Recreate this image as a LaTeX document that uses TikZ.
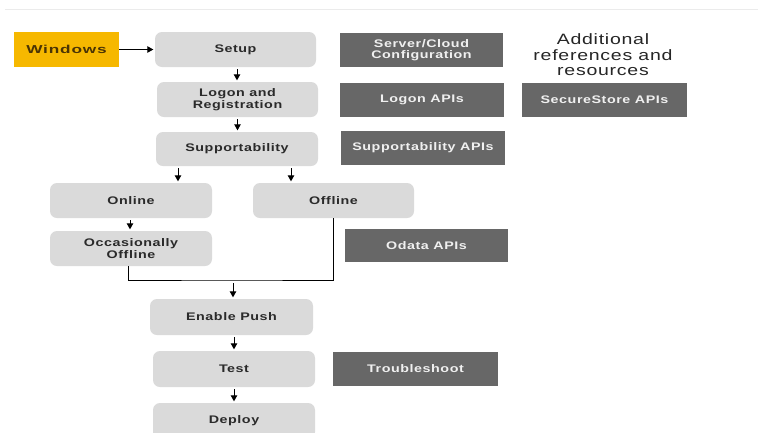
\documentclass[tikz,border=0pt]{standalone}
\usepackage{fontspec}
\setmainfont{Liberation Sans}
\newfontfamily\boxfont{Liberation Sans}[FakeStretch=1.3, LetterSpace=5]
\newfontfamily\winfont{Liberation Sans}[FakeStretch=1.5, LetterSpace=7]
\usetikzlibrary{arrows.meta,calc}
\definecolor{winyellow}{HTML}{F6B800}
\definecolor{lightbox}{HTML}{DADADA}
\definecolor{darkbox}{HTML}{676767}
\definecolor{boxtext}{HTML}{2A2A2A}
\definecolor{wintext}{HTML}{4A3405}
\tikzset{
  x=1pt, y=-1pt,
  base/.style={rectangle, inner sep=0pt, align=center,
    font=\boxfont\bfseries\fontsize{11}{11.5}\selectfont},
  stepbox/.style={base, fill=lightbox, rounded corners=7pt, text=boxtext},
  apibox/.style={base, fill=darkbox, text=white!94!black},
  winbox/.style={base, fill=winyellow, text=wintext, font=\winfont\bfseries\fontsize{11.5}{12}\selectfont},
  arr/.style={line width=0.9pt, -{Triangle[length=6pt,width=6.5pt]}, shorten <=2pt, shorten >=1.5pt},
  plain/.style={line width=0.8pt}
}
\begin{document}
\begin{tikzpicture}
\clip (0,0) rectangle (758,432);
\useasboundingbox (0,0) rectangle (758,432);
\fill[white] (0,0) rectangle (758,432);
\draw[black!8, line width=0.6pt] (5,9) -- (758,9);

\node[winbox, minimum width=105, minimum height=35] (win) at (66.5,49.5) {Windows};
\node[stepbox, minimum width=161, minimum height=35] (setup) at (235.5,49.5) {Setup};
\node[apibox, minimum width=163, minimum height=34] (server) at (421.5,50) {Server/Cloud\\Configuration};
\node[base, font=\boxfont\fontsize{15}{15.5}\selectfont, text=black!85] (addl) at (603,55) {Additional\\references and\\resources};

\node[stepbox, minimum width=161, minimum height=35] (logon) at (237.5,99.5) {Logon and\\Registration};
\node[apibox, minimum width=164, minimum height=34] (logonapi) at (422,100) {Logon APIs};
\node[apibox, minimum width=165, minimum height=34] (secure) at (604.5,100) {SecureStore APIs};

\node[stepbox, minimum width=162, minimum height=34] (supp) at (237,149) {Supportability};
\node[apibox, minimum width=164, minimum height=34] (suppapi) at (423,148) {Supportability APIs};

\node[stepbox, minimum width=162, minimum height=35] (online) at (131,200.5) {Online};
\node[stepbox, minimum width=161, minimum height=35] (offline) at (333.5,200.5) {Offline};
\node[stepbox, minimum width=162, minimum height=35] (occ) at (131,248.5) {Occasionally\\Offline};
\node[apibox, minimum width=163, minimum height=33] (odata) at (426.5,245.5) {Odata APIs};

\node[stepbox, minimum width=163, minimum height=36] (push) at (231.5,317) {Enable Push};
\node[stepbox, minimum width=162, minimum height=36] (test) at (234,369) {Test};
\node[apibox, minimum width=165, minimum height=34] (trouble) at (415.5,369) {Troubleshoot};
\node[stepbox, minimum width=162, minimum height=36] (deploy) at (234,421) {Deploy};

\coordinate (m) at (233,280);
\coordinate (sA) at ($(supp.south)+(-59,0)$);
\coordinate (sB) at ($(supp.south)+(54,0)$);

\draw[arr, shorten <=0pt] (win.east) -- (setup.west);
\draw[arr] ($(setup.south)+(1.5,0)$) -- ($(logon.north)+(-0.5,0)$);
\draw[arr] (logon.south) -- (logon.south |- supp.north);
\draw[arr] (sA) -- (sA |- online.north);
\draw[arr] (sB) -- (sB |- offline.north);
\draw[arr] ($(online.south)+(-1,0)$) -- ($(occ.north)+(-1,0)$);
\draw[plain] ($(occ.south)+(-3,0)$) |- (m) -| ($(offline.south)+(-0.5,0)$);
\draw[arr, shorten <=3pt] (m) -- (m |- push.north);
\draw[arr] ($(push.south)+(2.5,0)$) -- (test.north);
\draw[arr] (test.south) -- (deploy.north);
\end{tikzpicture}
\end{document}
